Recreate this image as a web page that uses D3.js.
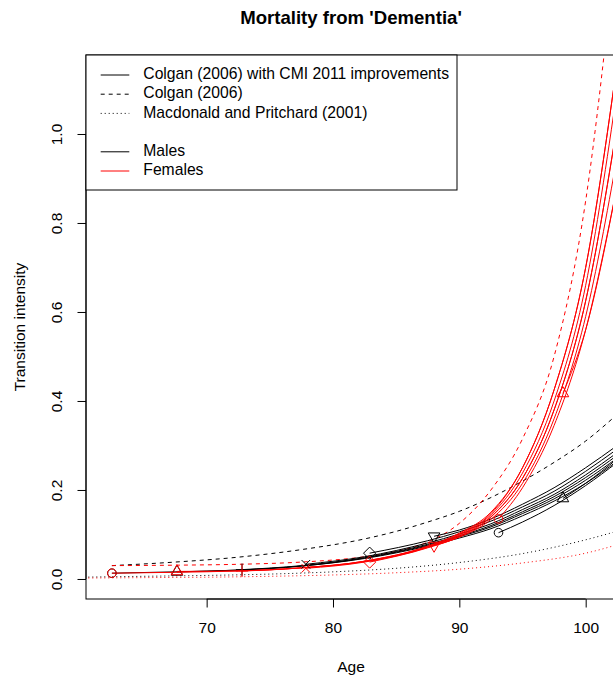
<!DOCTYPE html>
<html>
<head>
<meta charset="utf-8">
<script src="https://cdn.jsdelivr.net/npm/d3@7"></script>
<style>
  html, body { margin: 0; padding: 0; background: #fff; }
  svg { display: block; }
  text { font-family: "Liberation Sans", Arial, Helvetica, sans-serif; fill: #000; }
</style>
</head>
<body>
<svg id="chart" width="613" height="675"></svg>
<script>
// ---------------- data ----------------
const title = "Mortality from 'Dementia'";
const xLabel = "Age";
const yLabel = "Transition intensity";
const xTicks = [70, 80, 90, 100];
const yTicks = [0.0, 0.2, 0.4, 0.6, 0.8, 1.0];
const yTickLabels = ["0.0", "0.2", "0.4", "0.6", "0.8", "1.0"];

const legendLabels = ["Colgan (2006) with CMI 2011 improvements", "Colgan (2006)", "Macdonald and Pritchard (2001)", "", "Males", "Females"];
const legendDash = ["none", "4,4", "1,3", null, "none", "none"];
const legendColor = ["#000", "#000", "#000", null, "#000", "#ff0000"];

// cohort start points (markers)
const markerAges = [62.5, 67.65, 72.8, 77.85, 82.9, 88.0, 93.1, 98.2];
const markerShapes = ["circle", "triangle", "plus", "cross", "diamond", "triangleDown", "circle", "triangle"];
const maleStart = [0.013, 0.016, 0.021, 0.033, 0.058, 0.096, 0.104, 0.181];
const femaleStart = [0.013, 0.017, 0.018, 0.024, 0.038, 0.075, 0.135, 0.417];

// grid ages at which the cohort projections are read
const gridAges = [62.5, 67.5, 72.5, 77.5, 82.5, 87.5, 90, 92.5, 95, 97.5, 100, 102.5];

// male cohorts (values at grid ages after the cohort's start age)
const maleC1 = [0.016, 0.020, 0.029, 0.046, 0.074, 0.092, 0.113, 0.142, 0.175, 0.215, 0.265];
const maleC2 = [0.020, 0.029, 0.047, 0.076, 0.095, 0.117, 0.147, 0.180, 0.222, 0.272];
const maleC3 = [0.030, 0.048, 0.078, 0.097, 0.120, 0.151, 0.185, 0.228, 0.278];
const maleC4 = [0.050, 0.081, 0.101, 0.124, 0.156, 0.190, 0.234, 0.284];
const maleC5 = [0.086, 0.106, 0.130, 0.162, 0.197, 0.242, 0.292];
const maleC6 = [0.110, 0.135, 0.168, 0.205, 0.250, 0.300];
const maleC7 = [0.128, 0.165, 0.210, 0.262];
const maleC8 = [0.215, 0.270];

// female cohorts
const femaleC1 = [0.015, 0.018, 0.025, 0.040, 0.074, 0.103, 0.150, 0.250, 0.425, 0.700, 1.160];
const femaleC2 = [0.018, 0.025, 0.040, 0.073, 0.101, 0.147, 0.250, 0.425, 0.700, 1.160];
const femaleC3 = [0.025, 0.039, 0.072, 0.099, 0.144, 0.238, 0.400, 0.660, 1.100];
const femaleC4 = [0.038, 0.071, 0.097, 0.140, 0.226, 0.380, 0.625, 1.020];
const femaleC5 = [0.070, 0.095, 0.139, 0.226, 0.380, 0.625, 1.020];
const femaleC6 = [0.094, 0.134, 0.215, 0.360, 0.590, 0.950];
const femaleC7 = [0.205, 0.345, 0.560, 0.885];
const femaleC8 = [0.560, 0.885];

// Colgan (2006) without improvements (dashed)
const colganAges = [62.5, 67.5, 72.5, 77.5, 82.5, 85, 87.5, 90, 92.5, 95, 97.5, 100, 102.5];
const colganMale = [0.030, 0.038, 0.049, 0.066, 0.090, 0.107, 0.128, 0.152, 0.183, 0.220, 0.262, 0.310, 0.370];
const colganFemale = [0.030, 0.031, 0.033, 0.038, 0.050, 0.062, 0.083, 0.125, 0.200, 0.315, 0.500, 0.850, 1.450];

// Macdonald and Pritchard (2001) (dotted)
const mpAges = [60, 65, 70, 75, 80, 85, 90, 95, 100, 104];
const mpMale = [0.004, 0.006, 0.008, 0.011, 0.016, 0.024, 0.037, 0.057, 0.088, 0.120];
const mpFemale = [0.002, 0.003, 0.004, 0.006, 0.009, 0.014, 0.022, 0.036, 0.058, 0.090];

// ---------------- drawing ----------------
const svg = d3.select("#chart");
const W = 613, H = 675;
const plot = { left: 86, right: 616, top: 55, bottom: 599 };

svg.append("rect").attr("width", W).attr("height", H).attr("fill", "#fff");

const x = d3.scaleLinear().domain([60.45, 102.4]).range([plot.left, plot.right]);
const y = d3.scaleLinear().domain([-0.045, 1.1775]).range([plot.bottom, plot.top]);

svg.append("defs").append("clipPath").attr("id", "clip")
  .append("rect").attr("x", plot.left).attr("y", plot.top)
  .attr("width", plot.right - plot.left).attr("height", plot.bottom - plot.top);

const g = svg.append("g").attr("clip-path", "url(#clip)");
const line = d3.line().x(d => x(d[0])).y(d => y(d[1])).curve(d3.curveMonotoneX);

function drawSeries(ages, vals, color, dash) {
  const pts = ages.map((a, i) => [a, vals[i]]);
  g.append("path").attr("d", line(pts)).attr("fill", "none")
    .attr("stroke", color).attr("stroke-width", 1)
    .attr("stroke-dasharray", dash === "none" ? null : dash);
}

// dotted MP
drawSeries(mpAges, mpMale, "#000", "1,3");
drawSeries(mpAges, mpFemale, "#ff0000", "1,3");
// dashed Colgan
drawSeries(colganAges, colganMale, "#000", "4,4");
drawSeries(colganAges, colganFemale, "#ff0000", "4,4");

// cohorts
const maleCohorts = [maleC1, maleC2, maleC3, maleC4, maleC5, maleC6, maleC7, maleC8];
const femaleCohorts = [femaleC1, femaleC2, femaleC3, femaleC4, femaleC5, femaleC6, femaleC7, femaleC8];

function drawCohorts(cohorts, starts, color) {
  cohorts.forEach((vals, k) => {
    const later = gridAges.filter(a => a > markerAges[k] + 0.5);
    const ages = [markerAges[k]].concat(later.slice(0, vals.length));
    const v = [starts[k]].concat(vals);
    drawSeries(ages, v, color, "none");
  });
}
drawCohorts(maleCohorts, maleStart, "#000");
drawCohorts(femaleCohorts, femaleStart, "#ff0000");

// markers (R pch shapes)
const R0 = 4.3;
function markerPath(shape) {
  const s2 = Math.SQRT2 * R0;
  switch (shape) {
    case "triangle": {
      const r = 1.5551 * R0, yc = 0.7776 * R0, xc = 1.3468 * R0;
      return `M0,${-r}L${xc},${yc}L${-xc},${yc}Z`;
    }
    case "triangleDown": {
      const r = 1.5551 * R0, yc = 0.7776 * R0, xc = 1.3468 * R0;
      return `M0,${r}L${xc},${-yc}L${-xc},${-yc}Z`;
    }
    case "plus": return `M${-s2},0H${s2}M0,${-s2}V${s2}`;
    case "cross": return `M${-R0},${-R0}L${R0},${R0}M${-R0},${R0}L${R0},${-R0}`;
    case "diamond": return `M0,${-s2}L${s2},0L0,${s2}L${-s2},0Z`;
    default: return null;
  }
}
function drawMarkers(starts, color) {
  markerAges.forEach((a, k) => {
    const cx = x(a), cy = y(starts[k]);
    const shape = markerShapes[k];
    if (shape === "circle") {
      g.append("circle").attr("cx", cx).attr("cy", cy).attr("r", R0)
        .attr("fill", "none").attr("stroke", color).attr("stroke-width", 1);
    } else {
      g.append("path").attr("d", markerPath(shape)).attr("transform", `translate(${cx},${cy})`)
        .attr("fill", "none").attr("stroke", color).attr("stroke-width", 1);
    }
  });
}
drawMarkers(maleStart, "#000");
drawMarkers(femaleStart, "#ff0000");

// plot box
svg.append("rect").attr("x", plot.left).attr("y", plot.top)
  .attr("width", plot.right - plot.left).attr("height", plot.bottom - plot.top)
  .attr("fill", "none").attr("stroke", "#000").attr("stroke-width", 1);

// axes
const fs = 15.5;
const xAxis = svg.append("g").attr("transform", `translate(0,${plot.bottom})`)
  .call(d3.axisBottom(x).tickValues(xTicks).tickSize(8.5).tickSizeOuter(0).tickPadding(14).tickFormat(d3.format("d")));
xAxis.select(".domain").attr("d", `M${x(xTicks[0])},0H${x(xTicks[xTicks.length - 1])}`);
xAxis.selectAll("text").style("font-size", fs + "px").attr("font-family", null);
xAxis.selectAll("line").attr("stroke", "#000");

const yAxis = svg.append("g").attr("transform", `translate(${plot.left},0)`)
  .call(d3.axisLeft(y).tickValues(yTicks).tickSize(8.5).tickSizeOuter(0).tickFormat((d, i) => yTickLabels[i]));
yAxis.select(".domain").attr("d", `M0,${y(yTicks[0])}V${y(yTicks[yTicks.length - 1])}`);
yAxis.selectAll("text").style("font-size", fs + "px")
  .attr("x", null).attr("dy", null)
  .attr("transform", d => `translate(-28,0) rotate(-90)`)
  .attr("text-anchor", "middle").attr("dominant-baseline", "middle");
yAxis.selectAll(".tick text").attr("y", 0);
yAxis.selectAll("line").attr("stroke", "#000");

// titles
svg.append("text").attr("x", (plot.left + plot.right) / 2).attr("y", 24)
  .attr("text-anchor", "middle").style("font-size", "18.6px").style("font-weight", "bold").text(title);
svg.append("text").attr("x", (plot.left + plot.right) / 2).attr("y", 672)
  .attr("text-anchor", "middle").style("font-size", fs + "px").text(xLabel);
svg.append("text").attr("transform", `translate(25,${(plot.top + plot.bottom) / 2}) rotate(-90)`)
  .attr("text-anchor", "middle").style("font-size", fs + "px").text(yLabel);

// legend
const leg = svg.append("g");
leg.append("rect").attr("x", plot.left).attr("y", plot.top).attr("width", 371).attr("height", 135)
  .attr("fill", "#fff").attr("stroke", "#000").attr("stroke-width", 1);
legendLabels.forEach((lab, i) => {
  const cy = 75 + i * 19.2;
  if (legendColor[i]) {
    leg.append("line").attr("x1", 100.7).attr("x2", 129.3).attr("y1", cy).attr("y2", cy)
      .attr("stroke", legendColor[i]).attr("stroke-width", 1)
      .attr("stroke-dasharray", legendDash[i] === "none" ? null : legendDash[i]);
  }
  if (lab) {
    leg.append("text").attr("x", 143.3).attr("y", cy).attr("dominant-baseline", "middle")
      .style("font-size", "15.7px").text(lab);
  }
});
</script>
</body>
</html>
